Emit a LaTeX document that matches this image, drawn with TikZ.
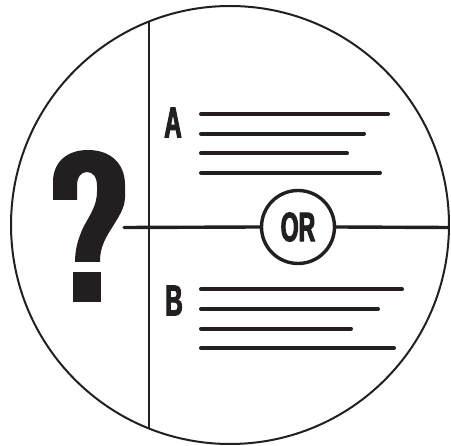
\documentclass[tikz,border=0pt]{standalone}
\usepackage{fontspec}
\newfontfamily\cond[FakeStretch=0.56,FakeBold=2.5]{Liberation Sans Bold}
\definecolor{ink}{HTML}{231F20}
\begin{document}
\begin{tikzpicture}[x=1pt,y=-1pt,
  frame/.style={draw=ink,line width=2pt},
  divider/.style={draw=ink,line width=2pt},
  axis/.style={draw=ink,line width=3.4pt,line cap=round},
  textline/.style={draw=ink,line width=4pt,line cap=round},
  letter/.style={inner sep=0pt,text=ink,font=\cond\fontsize{43}{43}\selectfont},
  orbox/.style={circle,draw=ink,line width=3.4pt,minimum size=73pt,inner sep=0pt,text=ink,
     font=\cond\fontsize{41}{41}\selectfont}]
\useasboundingbox (0,0) rectangle (451,446);
% outer circle
\node[frame,circle,minimum size=438pt,inner sep=0pt] (big) at (230,225) {};
% vertical divider
\coordinate (vtop) at (149,21.5);
\coordinate (vbot) at (149,428.5);
\draw[divider] (vtop) -- (vbot);
% OR node and horizontal axis
\node[orbox] (or) at (298,227) {OR};
\coordinate (hl) at (124,227.5);
\coordinate (hr) at (449,227.5);
\draw[axis] (hl) -- (or.west);
\draw[axis,line cap=butt] (or.east) -- (hr);
% question mark
\fill[ink] (53,200) -- (53,182) .. controls (53,162) and (67,150) .. (88,150)
  .. controls (110,150) and (125,163) .. (125,185) -- (125,198)
  .. controls (125,212) and (110,228) .. (104,242)
  .. controls (101,249) and (100,254) .. (100,262) -- (75,262)
  .. controls (75,250) and (78,238) .. (84,226)
  .. controls (90,215) and (97,205) .. (97,192) -- (97,186)
  .. controls (97,177) and (93,172) .. (87,172)
  .. controls (81,172) and (77,177) .. (77,186) -- (77,200) -- cycle;
\fill[ink] (73,272) rectangle (101,302);
% labels
\node[letter] (la) at (173,122.5) {A};
\node[letter] (lb) at (174,300.5) {B};
% A lines
\coordinate (a1s) at (201,114);   \coordinate (a1e) at (388,114);
\coordinate (a2s) at (201,133.7); \coordinate (a2e) at (364,133.7);
\coordinate (a3s) at (201,153.3); \coordinate (a3e) at (347,153.3);
\coordinate (a4s) at (201,172.7); \coordinate (a4e) at (380,172.7);
\draw[textline] (a1s) -- (a1e);
\draw[textline] (a2s) -- (a2e);
\draw[textline] (a3s) -- (a3e);
\draw[textline] (a4s) -- (a4e);
% B lines
\coordinate (b1s) at (201,289.3); \coordinate (b1e) at (402,289.3);
\coordinate (b2s) at (201,309);   \coordinate (b2e) at (378,309);
\coordinate (b3s) at (201,328.7); \coordinate (b3e) at (351,328.7);
\coordinate (b4s) at (201,348.3); \coordinate (b4e) at (394,348.3);
\draw[textline] (b1s) -- (b1e);
\draw[textline] (b2s) -- (b2e);
\draw[textline] (b3s) -- (b3e);
\draw[textline] (b4s) -- (b4e);
\end{tikzpicture}
\end{document}
